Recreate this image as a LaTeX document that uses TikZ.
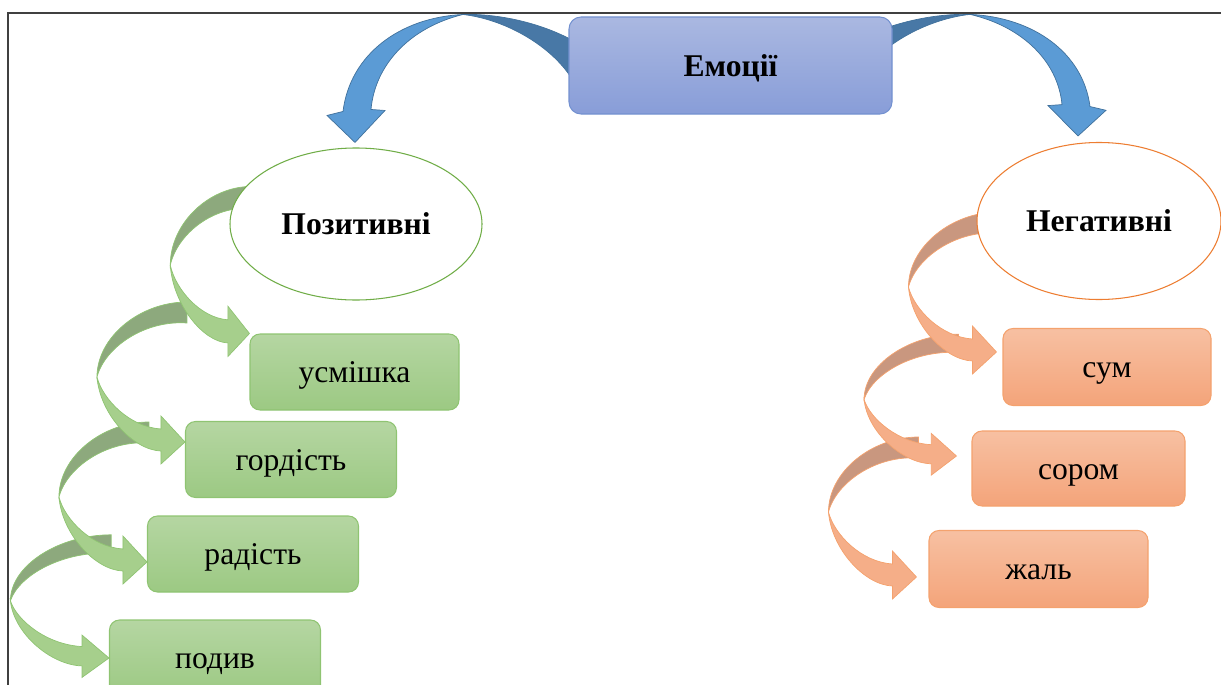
\documentclass[tikz,border=0pt]{standalone}
\usepackage{fontspec}
\setmainfont{Liberation Serif}
\usetikzlibrary{shapes.geometric,positioning,calc,backgrounds}

\definecolor{frameline}{HTML}{404040}
\definecolor{emotop}{HTML}{AAB8E1}
\definecolor{emobot}{HTML}{889DD8}
\definecolor{emoline}{HTML}{7391D0}
\definecolor{bluefront}{HTML}{5B9BD5}
\definecolor{blueback}{HTML}{4878A6}
\definecolor{blueline}{HTML}{41719C}
\definecolor{posline}{HTML}{70AD47}
\definecolor{postop}{HTML}{B5D6A2}
\definecolor{posbot}{HTML}{9CC983}
\definecolor{posedge}{HTML}{8FC472}
\definecolor{posback}{HTML}{8DA97D}
\definecolor{posfront}{HTML}{A6CF8C}
\definecolor{negline}{HTML}{ED7D31}
\definecolor{negtop}{HTML}{F7C0A2}
\definecolor{negbot}{HTML}{F4A47A}
\definecolor{negedge}{HTML}{F4A26E}
\definecolor{negback}{HTML}{C9977F}
\definecolor{negfront}{HTML}{F5AE88}

\tikzset{
every picture/.style={
line width=0.6pt
},
curvarr/.pic={
  \filldraw[arrback] (2,-140) .. controls (-45,-140) and (-88,-105) .. (-88,-65)
    .. controls (-80,-95) and (-40,-122) .. (2,-119) -- cycle;
  \filldraw[arrfront] (-88,-65) .. controls (-85,-28) and (-52,8) .. (-24,9)
    -- (-24,22) -- (0,0) -- (-24,-26) -- (-24,-13)
    .. controls (-55,-15) and (-82,-42) .. (-88,-65) -- cycle;
},
bluearr/.pic={
  \filldraw[draw=blueline, fill=blueback] (245,-104) -- (214,-104)
    .. controls (185,-119) and (145,-129) .. (108,-128)
    .. controls (150,-123) and (193,-98) .. (214,-68) -- (245,-68) -- cycle;
  \filldraw[draw=blueline, fill=bluefront] (0,0) -- (-28,-27) -- (-12,-31)
    .. controls (-5,-88) and (45,-125) .. (108,-128)
    .. controls (55,-115) and (20,-78) .. (16,-33) -- (30,-32) -- cycle;
}}

\begin{document}
\begin{tikzpicture}[x=0.2mm, y=-0.2mm,
font=\fontsize{18}{21}\selectfont,
every node/.style = {text height=13pt, text depth=1pt},
topbox/.style = {rectangle, rounded corners=2.4mm, draw=emoline, top color=emotop, bottom color=emobot,
  minimum width=64.6mm, minimum height=19.4mm, inner sep=0pt, font=\fontsize{18}{21}\selectfont\bfseries},
catell/.style = {ellipse, fill=white, inner sep=0pt, font=\fontsize{18}{21}\selectfont\bfseries},
posbox/.style = {rectangle, rounded corners=2mm, draw=posedge, top color=postop, bottom color=posbot,
  minimum width=42.2mm, minimum height=15.2mm, inner sep=0pt},
negbox/.style = {rectangle, rounded corners=2mm, draw=negedge, top color=negtop, bottom color=negbot,
  minimum width=42.2mm, minimum height=15.4mm, inner sep=0pt},
posarr/.style = {arrback/.style={fill=posback, draw=posedge}, arrfront/.style={fill=posfront, draw=posedge}},
negarr/.style = {arrback/.style={fill=negback, draw=negedge}, arrfront/.style={fill=negfront, draw=negedge}}]
\useasboundingbox (0,0) rectangle (1221,685);

\node[topbox] (emo) at (730.5,65.5) {Емоції};

\node[catell, draw=posline, minimum width=50.4mm, minimum height=30.4mm] (poz) at (356,224) {Позитивні};
\node[catell, draw=negline, minimum width=48.8mm, minimum height=31.4mm] (neg) at (1099,221) {Негативні};

\node[posbox, minimum width=41.8mm] (usm) at (354.5,372) {усмішка};
\node[posbox] (gord) at (291,459.5) {гордість};
\node[posbox] (rad) at (253,554) {радість};
\node[posbox] (pod) at (215,658) {подив};

\node[negbox, minimum width=41.6mm] (sum) at (1107,367) {сум};
\node[negbox, minimum width=42.6mm, minimum height=15mm] (sor) at (1078.5,468.5) {сором};
\node[negbox, minimum width=43.8mm] (zhal) at (1038.5,569) {жаль};

\begin{scope}[on background layer]
\pic at ($(poz.north)+(-1,-5)$) {bluearr};
\pic[xscale=-1, yscale=0.95] at ($(neg.north)+(-21,-6)$) {bluearr};

\pic[posarr, xscale=1.12, yscale=0.88] at (pod.west) {curvarr};
\pic[posarr] at ($(rad.west)+(0,8)$) {curvarr};
\pic[posarr] at ($(gord.west)+(0,-17.5)$) {curvarr};
\pic[posarr, xscale=0.9, yscale=1.05] at (usm.north west) {curvarr};

\pic[negarr] at ($(zhal.west)+(-12,8)$) {curvarr};
\pic[negarr, xscale=1.05, yscale=0.87] at ($(sor.west)+(-15,-12.5)$) {curvarr};
\pic[negarr] at ($(sum.west)+(-6,-15)$) {curvarr};
\end{scope}

% frame
\draw[frameline, line width=0.4mm] (8,690) -- (8,13) -- (1230,13);
\end{tikzpicture}
\end{document}
